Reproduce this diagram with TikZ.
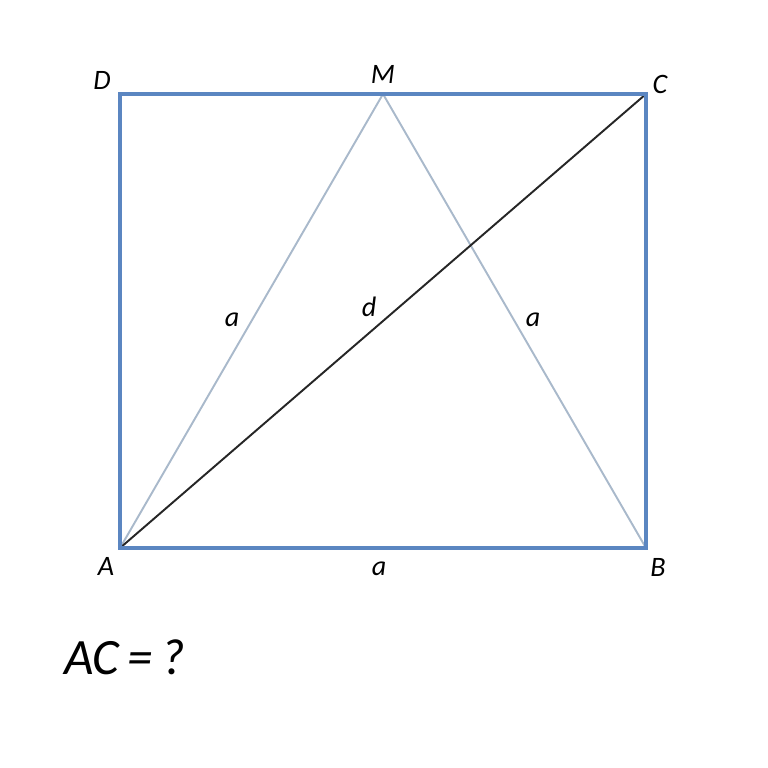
\documentclass[tikz,border=0pt]{standalone}
\usepackage{fontspec}
\setmainfont{Carlito}
\definecolor{rectblue}{HTML}{5B86C1}
\definecolor{sidegray}{HTML}{A9B9CB}
\tikzset{
  lbl/.style={font=\itshape\fontsize{16}{18}\selectfont, inner sep=0pt, text=black},
  side/.style={color=sidegray, line width=1.1pt},
  diag/.style={color=black!85, line width=1.1pt},
  frame/.style={color=rectblue, line width=2.6pt, line join=miter}
}
\begin{document}
\begin{tikzpicture}[x=0.02cm,y=-0.02cm]
        \useasboundingbox (0,0) rectangle (768,768);
        \coordinate (A) at (120,548);
        \coordinate (B) at (646,548);
        \coordinate (C) at (646,94);
        \coordinate (D) at (120,94);
        \coordinate (M) at (383,94);
        \draw [side] (A)--(M) node [lbl] at(232,320) {a};
        \draw [side] (M)--(B) node [lbl] at(533,320) {a};
        \draw [diag] (A)--(C) node [lbl] at(369,307) {d};
        \draw [frame] (A)--(B)--(C)--(D)--cycle;
        \node [lbl] (lA) at(106,566) {A};
        \node [lbl] (lB) at(658,567) {B};
        \node [lbl] (lC) at(660,84) {C};
        \node [lbl] (lD) at(102,80) {D};
        \node [lbl] (lM) at(383,74) {M};
        \node [lbl] (lAB) at(379,569) {a};
        \node [lbl, font=\itshape\fontsize{29}{32}\selectfont, anchor=west] (q) at(64,657) {AC\,=\,?};
    \end{tikzpicture}
\end{document}
